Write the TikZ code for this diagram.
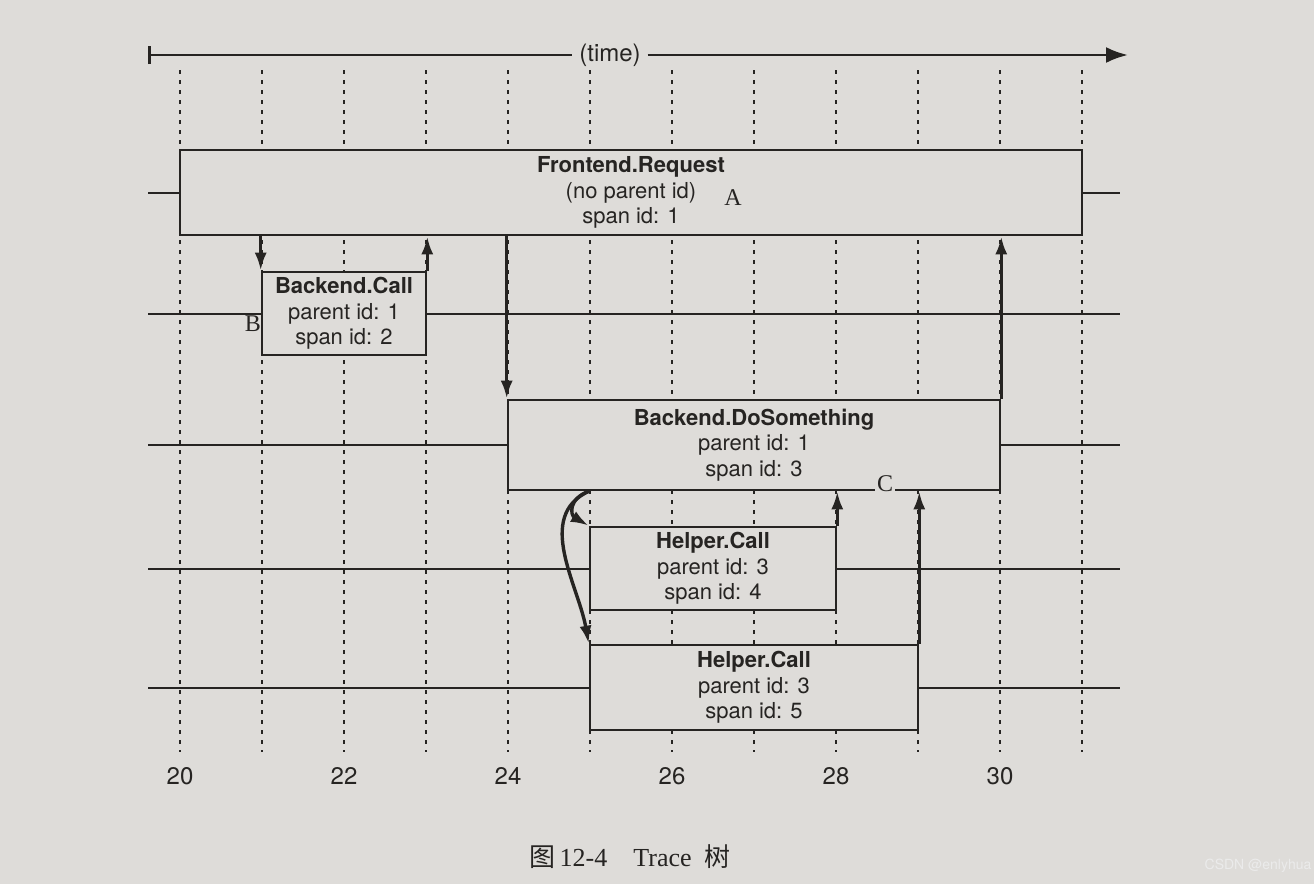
\documentclass[tikz,border=0pt]{standalone}
\usepackage{fontspec}
\setmainfont{Liberation Serif}
\setsansfont{TeX Gyre Heros}
\newfontfamily\cjk{Noto Sans CJK SC}
\usetikzlibrary{arrows.meta,positioning}
\definecolor{paper}{RGB}{222,220,217}
\definecolor{ink}{RGB}{38,36,34}

\begin{document}
\begin{tikzpicture}[
		x=0.5pt, y=-0.5pt,
		spanbox/.style={draw=ink, line width=1.3pt, fill=paper, inner sep=0pt, align=center, text=ink, font=\sffamily\fontsize{11}{12.8}\selectfont},
		lane/.style={draw=ink, line width=1pt},
		tickline/.style={draw=ink, line width=1pt, dash pattern=on 2pt off 3pt},
		callarrow/.style={draw=ink, line width=1.7pt, -{Latex[length=9pt,width=6pt]}},
		letter/.style={text=ink, font=\fontsize{12}{14}\selectfont},
		ticklabel/.style={text=ink, font=\sffamily\fontsize{12}{14}\selectfont}
	]
	\path[fill=paper, use as bounding box] (0,0) rectangle (1314,884);

	% time axis
	\coordinate (tstart) at (148,55);
	\coordinate (tend) at (1128,55);
	\node[text=ink, font=\sffamily\fontsize{12}{14}\selectfont] (time) at (610,55) {(time)};
	\draw[ink, line width=1.4pt, {Bar[width=9pt]}-] (tstart) -- (time.west);
	\draw[ink, line width=1.4pt, -{Latex[length=11pt,width=8pt]}] (time.east) -- (tend);

	% ticks
	\foreach \t in {20,...,31}
		\draw[tickline] ({180+82*(\t-20)},70) -- ++(0,682);
	\foreach \t in {20,22,...,30}
		\node[ticklabel] (t\t) at ({180+82*(\t-20)},776) {\t};

	% spans
	\node[spanbox, minimum width=451pt, minimum height=42.5pt] (frontend) at (631,192.5) {\textbf{Frontend.Request}\\(no parent id)\\span id: 1};
	\node[spanbox, minimum width=82pt, minimum height=41.5pt] (bcall) at (344,313.5) {\textbf{Backend.Call}\\parent id: 1\\span id: 2};
	\node[spanbox, minimum width=246pt, minimum height=45pt] (dosomething) at (754,445) {\textbf{Backend.DoSomething}\\parent id: 1\\span id: 3};
	\node[spanbox, minimum width=123pt, minimum height=41.5pt] (helper1) at (713,568.5) {\textbf{Helper.Call}\\parent id: 3\\span id: 4};
	\node[spanbox, minimum width=164pt, minimum height=42.5pt] (helper2) at (754,687.5) {\textbf{Helper.Call}\\parent id: 3\\span id: 5};

	% lanes
	\coordinate (lanel) at (148,0);
	\coordinate (laner) at (1120,0);
	\draw[lane] (frontend.west) -- (frontend.west -| lanel);
	\draw[lane] (frontend.east) -- (frontend.east -| laner);
	\draw[lane] (bcall.west) -- (bcall.west -| lanel);
	\draw[lane] (bcall.east) -- (bcall.east -| laner);
	\draw[lane] (dosomething.west) -- (dosomething.west -| lanel);
	\draw[lane] (dosomething.east) -- (dosomething.east -| laner);
	\draw[lane] (helper1.west) -- (helper1.west -| lanel);
	\draw[lane] (helper1.east) -- (helper1.east -| laner);
	\draw[lane] (helper2.west) -- (helper2.west -| lanel);
	\draw[lane] (helper2.east) -- (helper2.east -| laner);

	% calls and returns
	\draw[callarrow] (frontend.south -| bcall.west) -- (bcall.north west);
	\draw[callarrow] (bcall.north east) -- (frontend.south -| bcall.east);
	\draw[callarrow] (frontend.south -| dosomething.west) -- (dosomething.north west);
	\draw[callarrow] (dosomething.north east) -- (frontend.south -| dosomething.east);
	\draw[callarrow] (dosomething.south -| helper1.west) to[out=200, in=150, looseness=1.6] (helper1.north west);
	\draw[callarrow] (dosomething.south -| helper1.west) to[out=205, in=100] (helper2.north west);
	\draw[callarrow] (helper1.north east) -- (dosomething.south -| helper1.east);
	\draw[callarrow] (helper2.north east) -- (dosomething.south -| helper2.east);

	\node[letter] (la) at (733,198) {A};
	\node[letter] (lb) at (253,324) {B};
	\node[letter, fill=paper, inner sep=1pt] (lc) at (885,484) {C};

	% caption
	\node[text=ink, font=\fontsize{13}{15}\selectfont] (caption) at (630,857) {{\cjk 图}\,12-4\quad Trace\enspace{\cjk 树}};
	\node[text=white!92!black, font=\sffamily\fontsize{7}{8}\selectfont] (wm) at (1258,866) {CSDN @enlyhua};
\end{tikzpicture}
\end{document}
